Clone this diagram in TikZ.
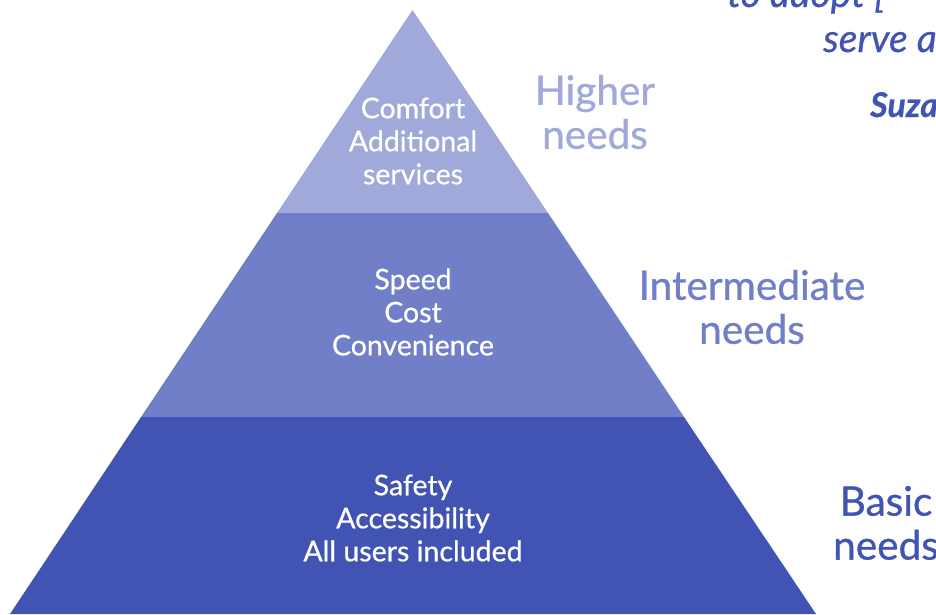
\documentclass[tikz,border=0pt]{standalone}
\usepackage{fontspec}
\setmainfont{Lato}[FakeBold=0.6]
\newfontfamily\labelfont{Lato}[FakeBold=0.8]
\definecolor{tierA}{HTML}{A0A9DA}
\definecolor{tierB}{HTML}{707FC7}
\definecolor{tierC}{HTML}{4254B3}
\tikzset{
  tiertext/.style={text=white, align=center, font=\fontsize{28.5}{33}\selectfont},
  needlabel/.style={align=center, font=\labelfont\fontsize{40.5}{44}\selectfont},
  quote/.style={text=tierC, anchor=base west, inner sep=0pt, font=\fontsize{39}{44}\selectfont\itshape}
}
\begin{document}
\begin{tikzpicture}[x=1pt,y=-1pt]
\path[use as bounding box, clip] (0,0) rectangle (936,614);
% pyramid tiers
\fill[tierA] (412.5,10) -- (548,213) -- (277,213) -- cycle;
\fill[tierB] (277,213) -- (548,213) -- (684,417) -- (141,417) -- cycle;
\fill[tierC] (141,417) -- (684,417) -- (816,614) -- (10,614) -- cycle;
% tier texts
\node[tiertext] (t1) at (413,141) {Comfort\\Additional\\services};
\node[tiertext] (t2) at (413,312) {Speed\\Cost\\Convenience};
\node[tiertext] (t3) at (413,518) {Safety\\Accessibility\\All users included};
% need labels
\node[needlabel, text=tierA] (l1) at (595,112) {Higher\\needs};
\node[needlabel, text=tierB] (l2) at (752,307) {Intermediate\\needs};
\node[needlabel, text=tierC] (l3) at (886,523) {Basic\\needs};
% quote fragments (cut by the frame)
\node[quote] (q1) at (727,7) {to adopt [};
\node[quote] (q2) at (823,52) {serve a};
\node[quote, font=\fontsize{34}{40}\selectfont\bfseries\itshape] (q3) at (870,117) {Suza};
\end{tikzpicture}
\end{document}
